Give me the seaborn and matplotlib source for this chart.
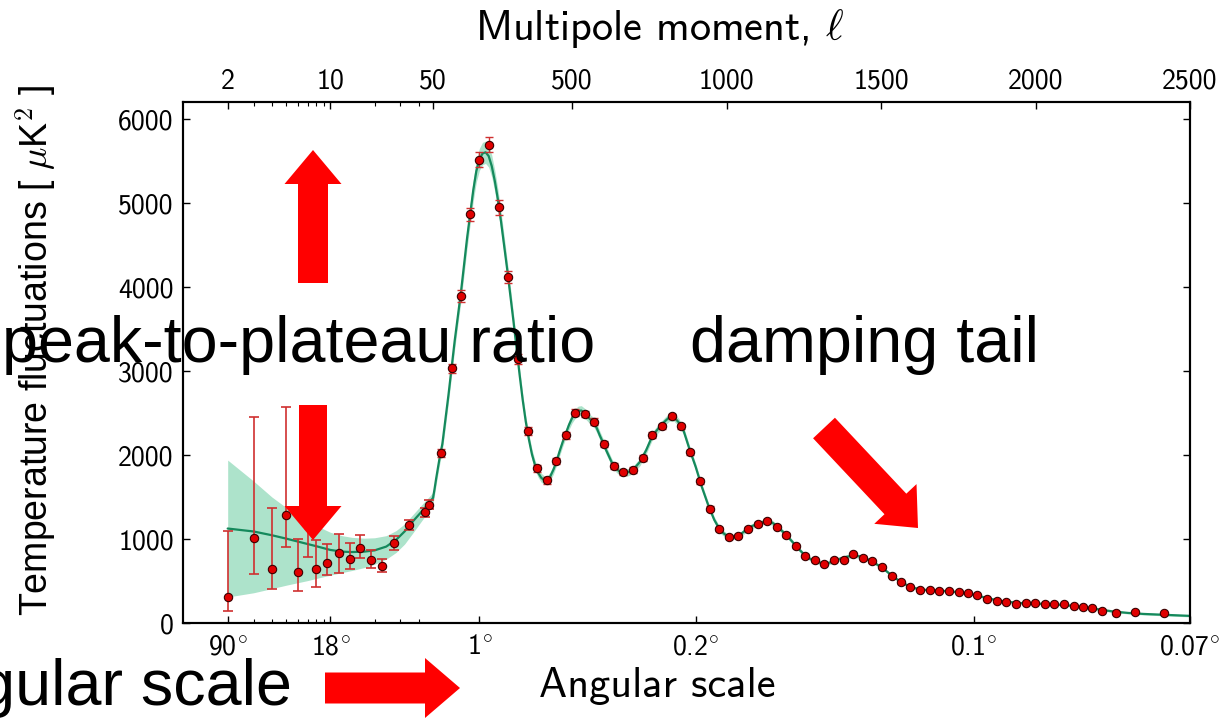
import numpy as np
import matplotlib
matplotlib.use("Agg")
import matplotlib.pyplot as plt
import seaborn as sns
from matplotlib.patches import FancyArrow

# ---------------- data ----------------
# low-ell points (individual / binned multipoles)
lowl_ell = [2, 3, 4, 5, 6, 7, 8, 9.5, 11.5, 13.5, 16, 18.9, 22.4, 26.9, 34.5, 44.3, 46.6]
lowl_D = [305, 1010, 645, 1283, 602, 1150, 641, 713, 835, 760, 894, 756, 680, 950, 1164, 1318, 1405]
lowl_err_lo = [159, 428, 238, 377, 219, 363, 210, 143, 245, 122, 114, 99, 71, 83, 59, 50, 50]
lowl_err_hi = [791, 1440, 721, 1286, 399, 550, 345, 225, 222, 198, 155, 111, 88, 87, 59, 55, 55]

# high-ell binned points
highl_ell = [77, 110, 140, 170, 200, 232, 263, 293, 325, 356,
             387, 418, 448, 479, 509, 541, 572, 603, 635, 666,
             697, 728, 759, 790, 822, 853, 883, 915, 945, 976,
             1007, 1038, 1069, 1101, 1131, 1163, 1193, 1224, 1255, 1286,
             1317, 1348, 1380, 1410, 1441, 1472, 1503, 1534, 1565, 1595,
             1627, 1658, 1688, 1720, 1751, 1781, 1812, 1843, 1874, 1906,
             1937, 1968, 1999, 2030, 2061, 2091, 2123, 2154, 2184, 2216,
             2261, 2321, 2416]
highl_D = [2023, 3032, 3892, 4866, 5519, 5697, 4949, 4118, 3144, 2284,
           1841, 1698, 1928, 2236, 2506, 2490, 2399, 2126, 1868, 1793,
           1825, 1963, 2236, 2343, 2462, 2343, 2031, 1686, 1362, 1116,
           1025, 1042, 1125, 1176, 1211, 1148, 1049, 914, 799, 747,
           703, 756, 756, 816, 780, 733, 669, 562, 483, 428,
           396, 392, 384, 384, 372, 353, 329, 285, 258, 249,
           226, 238, 241, 222, 226, 222, 202, 190, 175, 139,
           115, 131, 115]
highl_err = [50, 55, 70, 80, 85, 90, 85, 75, 60, 50,
             45, 40, 40, 40, 40, 40, 38, 36, 35, 34,
             33, 33, 33, 32, 32, 30, 30, 28, 26, 24,
             22, 22, 22, 22, 22, 20, 20, 18, 18, 16,
             16, 16, 16, 16, 15, 15, 15, 14, 14, 14,
             13, 13, 13, 13, 13, 13, 13, 12, 12, 12,
             12, 12, 12, 12, 12, 12, 12, 12, 12, 12,
             12, 12, 12]

# best-fit model curve, low-ell part with its (asymmetric) band
model_ell_low = [2, 3, 4, 5, 6, 7, 8, 10, 12, 14, 17, 20, 24, 28, 32, 36, 40, 44, 48, 50]
model_D_low = [1125, 1090, 1045, 1005, 970, 940, 915, 870, 850, 845, 850, 865, 910, 990, 1090, 1200, 1290, 1370, 1450, 1490]
band_lo_low = [310, 360, 410, 450, 480, 505, 530, 570, 600, 625, 660, 700, 760, 840, 940, 1060, 1170, 1270, 1380, 1420]
band_hi_low = [1940, 1690, 1500, 1375, 1290, 1220, 1160, 1080, 1040, 1020, 1010, 1015, 1040, 1100, 1180, 1280, 1370, 1450, 1520, 1560]

# best-fit model curve, high-ell part with band half width
model_ell_high = [55, 60, 65, 70, 75, 80, 90, 100, 110, 120,
                  130, 140, 150, 160, 170, 180, 190, 200, 210, 220,
                  230, 240, 250, 260, 270, 280, 290, 300, 310, 320,
                  330, 340, 350, 360, 370, 380, 390, 400, 410, 420,
                  430, 440, 450, 460, 470, 480, 490, 500, 510, 520,
                  530, 540, 550, 560, 570, 580, 590, 600, 610, 620,
                  630, 640, 650, 660, 670, 680, 690, 700, 720, 740,
                  760, 780, 800, 815, 830, 845, 860, 880, 900, 920,
                  940, 960, 980, 1000, 1020, 1040, 1060, 1080, 1100, 1120,
                  1135, 1150, 1170, 1190, 1210, 1230, 1250, 1270, 1290, 1310,
                  1330, 1350, 1370, 1390, 1410, 1430, 1450, 1470, 1490, 1510,
                  1530, 1550, 1570, 1590, 1610, 1630, 1650, 1700, 1750, 1800,
                  1850, 1900, 1950, 2000, 2050, 2100, 2150, 2200, 2250, 2300,
                  2350, 2400, 2450, 2500]
model_D_high = [1600, 1720, 1830, 1940, 2040, 2130, 2420, 2720, 3040, 3360,
                3650, 3930, 4250, 4580, 4870, 5150, 5380, 5520, 5590, 5605,
                5560, 5440, 5260, 5040, 4780, 4500, 4210, 3910, 3600, 3280,
                2960, 2660, 2400, 2190, 2010, 1880, 1790, 1730, 1700, 1700,
                1750, 1830, 1930, 2050, 2160, 2260, 2360, 2440, 2495, 2525,
                2530, 2500, 2460, 2420, 2390, 2320, 2230, 2150, 2060, 1980,
                1900, 1850, 1815, 1795, 1790, 1795, 1810, 1835, 1920, 2060,
                2230, 2320, 2400, 2450, 2450, 2390, 2300, 2070, 1860, 1620,
                1410, 1230, 1100, 1040, 1025, 1040, 1100, 1150, 1180, 1205,
                1210, 1190, 1130, 1060, 980, 895, 820, 765, 730, 712,
                715, 740, 770, 790, 800, 795, 770, 735, 690, 640,
                580, 525, 478, 440, 415, 400, 392, 383, 368, 338,
                290, 256, 238, 232, 224, 212, 192, 165, 138, 120,
                108, 100, 92, 85]
band_hw_high = [70, 72, 74, 76, 78, 80, 85, 90, 95, 100,
                105, 110, 115, 120, 125, 128, 130, 132, 133, 133,
                132, 130, 127, 123, 118, 113, 108, 102, 96, 90,
                84, 78, 72, 67, 62, 58, 55, 53, 52, 52,
                52, 52, 53, 54, 55, 56, 57, 58, 58, 58,
                58, 58, 57, 56, 55, 54, 52, 50, 48, 46,
                45, 44, 44, 44, 44, 44, 44, 44, 45, 46,
                47, 48, 48, 48, 48, 47, 46, 44, 42, 40,
                38, 36, 34, 32, 30, 30, 30, 30, 30, 30,
                30, 29, 28, 27, 26, 25, 24, 23, 22, 22,
                22, 22, 22, 22, 22, 22, 21, 20, 19, 18,
                17, 16, 15, 14, 13, 12, 12, 12, 12, 12,
                12, 12, 12, 12, 12, 12, 12, 12, 12, 12,
                12, 12, 12, 12]

# tick labels
ell_ticks = [2, 10, 50, 500, 1000, 1500, 2000, 2500]
ell_minor = [3, 4, 5, 6, 7, 8, 9, 20, 30, 40]
ang_ticks = [2, 10, 200, 900, 1800, 2500]
ang_labels = ["90", "18", "1", "0.2", "0.1", "0.07"]
y_ticks = [0, 1000, 2000, 3000, 4000, 5000, 6000]

# ---------------- hybrid log/linear multipole scale ----------------
LOGCUT = 50.0
K_LIN = 0.002103


def fwd(l):
    l = np.asarray(l, dtype=float)
    lg = np.log10(np.clip(l, 1e-6, None))
    return np.where(l <= LOGCUT, lg, np.log10(LOGCUT) + (l - LOGCUT) * K_LIN)


def inv(u):
    u = np.asarray(u, dtype=float)
    c = np.log10(LOGCUT)
    return np.where(u <= c, 10.0 ** np.clip(u, -10, c), LOGCUT + (u - c) / K_LIN)


# ---------------- styling ----------------
sns.set_theme(style="ticks")
plt.rcParams["font.family"] = ["cmss10", "DejaVu Sans"]
plt.rcParams["mathtext.fontset"] = "cm"
plt.rcParams["axes.formatter.use_mathtext"] = True
plt.rcParams["axes.unicode_minus"] = False
for key in ("text.color", "axes.labelcolor", "xtick.color", "ytick.color", "axes.edgecolor"):
    plt.rcParams[key] = "black"

LINE_C = "#15895c"
BAND_C = "#ade3cb"
PT_C = "#e00000"
ERR_C = "#cf3030"

fig = plt.figure(figsize=(12.19, 7.22), dpi=100)
ax = fig.add_axes([0.1505, 0.1371, 0.8257, 0.7212])
ax.set_xscale("function", functions=(fwd, inv))
ax.set_xlim(1, 2500)
ax.set_ylim(0, 6200)

band_ell = np.array(model_ell_low + model_ell_high, dtype=float)
model_all = np.array(model_D_low + model_D_high, dtype=float)
band_lo = np.array(band_lo_low + list(np.array(model_D_high) - np.array(band_hw_high)), dtype=float)
band_hi = np.array(band_hi_low + list(np.array(model_D_high) + np.array(band_hw_high)), dtype=float)

ax.fill_between(band_ell, band_lo, band_hi, color=BAND_C, lw=0, zorder=1)
sns.lineplot(x=band_ell, y=model_all, ax=ax, color=LINE_C, lw=1.6, sort=False,
             estimator=None, zorder=2)

ax.errorbar(lowl_ell, lowl_D, yerr=[lowl_err_lo, lowl_err_hi], fmt="none",
            ecolor=ERR_C, elinewidth=1.2, capsize=3.6, capthick=1.2, zorder=3)
ax.errorbar(highl_ell, highl_D, yerr=highl_err, fmt="none",
            ecolor=ERR_C, elinewidth=1.0, capsize=3.2, capthick=1.0, zorder=3)
sns.scatterplot(x=lowl_ell + highl_ell, y=lowl_D + highl_D, ax=ax, s=36,
                color=PT_C, edgecolor="#3a0000", linewidth=0.8, zorder=4, legend=False)

# bottom axis: angular scale (twin)
ax2 = ax.twiny()
ax2.set_xscale("function", functions=(fwd, inv))
ax2.set_xlim(ax.get_xlim())
ax2.xaxis.set_ticks_position("bottom")
ax2.xaxis.set_label_position("bottom")
ax2.set_xticks(ang_ticks)
ax2.set_xticklabels([t + r"$^{\circ}$" for t in ang_labels])
ax2.set_xticks(ell_minor, minor=True)
ax2.xaxis.set_minor_formatter(matplotlib.ticker.NullFormatter())
ax2.tick_params(axis="x", which="major", direction="in", length=5, width=1,
                labelsize=20, pad=8, top=False, labeltop=False, bottom=True, labelbottom=True)
ax2.tick_params(axis="x", which="minor", direction="in", length=3, width=0.8,
                top=False, bottom=True)
ax2.set_xlabel("Angular scale", fontsize=30.5)
ax2.xaxis.label.set_va("baseline")
ax2.xaxis.set_label_coords(0.4704, -0.1421)

# top axis: multipole
ax.set_xticks(ell_ticks)
ax.set_xticklabels([str(t) for t in ell_ticks])
ax.set_xticks(ell_minor, minor=True)
ax.xaxis.set_minor_formatter(matplotlib.ticker.NullFormatter())
ax.tick_params(axis="x", which="both", top=True, labeltop=True, bottom=False, labelbottom=False)
ax.tick_params(axis="x", which="major", direction="in", length=5, width=1,
               labelsize=20, pad=6)
ax.tick_params(axis="x", which="minor", direction="in", length=3, width=0.8)
ax.set_xlabel(r"Multipole moment, $\ell$", fontsize=30.5)
ax.xaxis.set_label_position("top")
ax.xaxis.label.set_va("baseline")
ax.xaxis.set_label_coords(0.4734, 1.1196)

ax.set_yticks(y_ticks)
ax.set_yticklabels([str(t) for t in y_ticks])
ax.tick_params(axis="y", direction="in", left=True, right=True, length=5, width=1,
               labelsize=20, pad=7)
ax.set_ylabel(r"Temperature fluctuations [ $\mu$K$^{\mathsf{2}}$ ]", fontsize=27,
              family=["Liberation Sans", "DejaVu Sans"])
ax.yaxis.label.set_va("center")
ax.yaxis.set_label_coords(-0.1465, 0.524)

for a in (ax, ax2):
    for s in a.spines.values():
        s.set_color("black")
        s.set_linewidth(1.5)

# ---------------- overlay annotations (pixel coordinates) ----------------
oax = fig.add_axes([0, 0, 1, 1], zorder=10)
oax.set_xlim(0, 1219)
oax.set_ylim(722, 0)
oax.axis("off")
oax.patch.set_alpha(0)

arrow_kw = dict(length_includes_head=True, color="#ff0000", lw=0)
oax.add_patch(FancyArrow(313, 283, 0, -133, width=30, head_width=57, head_length=34, **arrow_kw))
oax.add_patch(FancyArrow(313, 405, 0, 135, width=28, head_width=57, head_length=34, **arrow_kw))
oax.add_patch(FancyArrow(325, 688, 135, 0, width=31, head_width=60, head_length=35, **arrow_kw))
oax.add_patch(FancyArrow(824, 428, 94, 100, width=30, head_width=58, head_length=33, **arrow_kw))

txt_kw = dict(fontsize=46.5, family=["Liberation Sans", "DejaVu Sans"], color="black", va="baseline")
oax.text(2, 362, "peak-to-plateau ratio", ha="left", **txt_kw)
oax.text(690, 362, "damping tail", ha="left", **txt_kw)
oax.text(292, 705, "Angular scale", ha="right", **txt_kw)

fig.savefig("out.png", dpi=100)
